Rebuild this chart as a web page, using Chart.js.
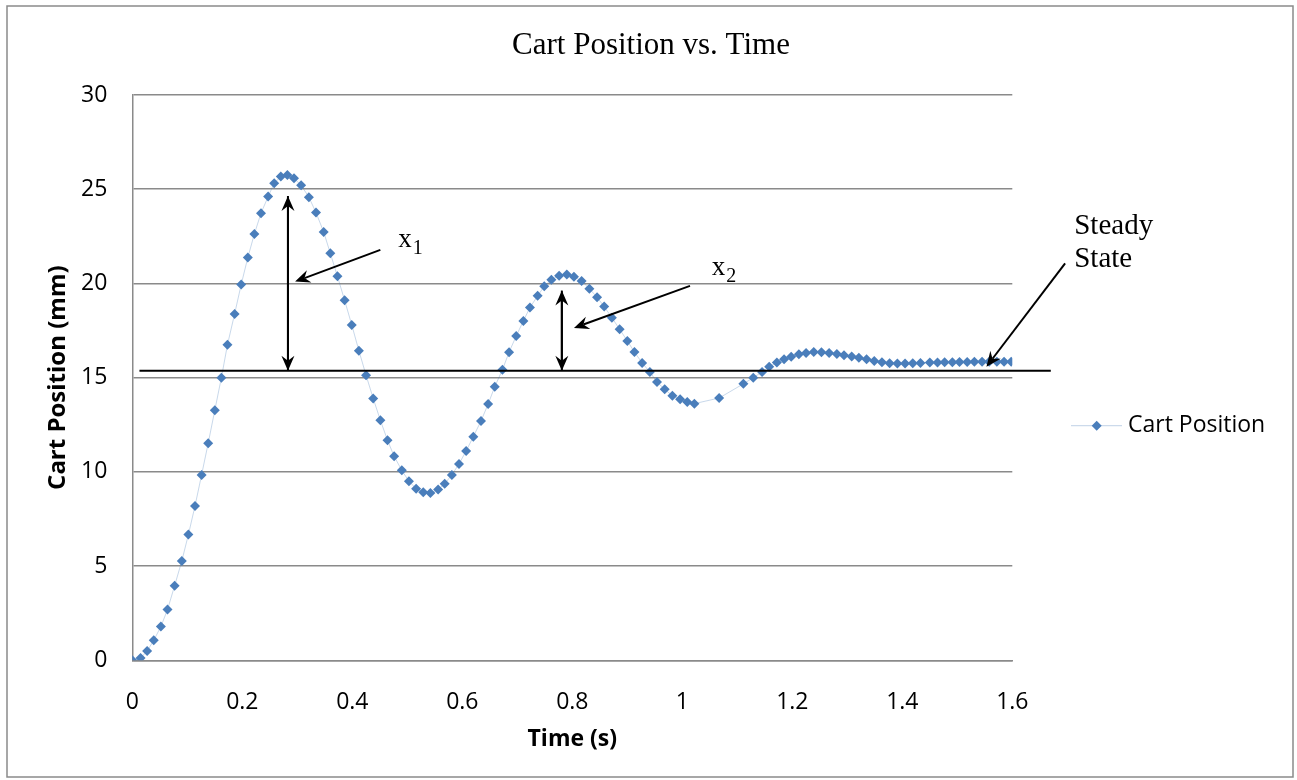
<!DOCTYPE html>
<html>
<head>
<meta charset="utf-8">
<title>Cart Position vs. Time</title>
<script src="https://cdn.jsdelivr.net/npm/chart.js@4.4.1/dist/chart.umd.min.js"></script>
<style>
  html, body { margin: 0; padding: 0; background: #fff; }
  #wrap { width: 1297px; height: 780px; }
</style>
</head>
<body>
<div id="wrap"><canvas id="chart" width="1297" height="780"></canvas></div>
<script>
// Datos
const tiempos = [0.000, 0.015, 0.027, 0.039, 0.052, 0.064, 0.077, 0.090, 0.102, 0.114, 0.126, 0.138, 0.150, 0.162, 0.173, 0.186, 0.198, 0.210, 0.222, 0.234,
    0.247, 0.258, 0.270, 0.282, 0.294, 0.307, 0.321, 0.334, 0.348, 0.360, 0.373, 0.386, 0.399, 0.412, 0.425, 0.438, 0.451, 0.464, 0.476, 0.490,
    0.503, 0.516, 0.529, 0.542, 0.556, 0.568, 0.581, 0.594, 0.607, 0.620, 0.634, 0.647, 0.659, 0.673, 0.685, 0.698, 0.711, 0.723, 0.737, 0.749,
    0.762, 0.776, 0.790, 0.803, 0.817, 0.831, 0.845, 0.858, 0.872, 0.886, 0.900, 0.913, 0.927, 0.941, 0.954, 0.968, 0.982, 0.996, 1.009, 1.022,
    1.067, 1.111, 1.129, 1.145, 1.158, 1.172, 1.185, 1.198, 1.212, 1.225, 1.239, 1.253, 1.267, 1.281, 1.294, 1.308, 1.321, 1.335, 1.349, 1.363,
    1.377, 1.391, 1.405, 1.419, 1.433, 1.450, 1.464, 1.477, 1.491, 1.504, 1.518, 1.531, 1.545, 1.558, 1.572, 1.585, 1.598];

const posiciones = [0.00, 0.12, 0.49, 1.06, 1.79, 2.69, 3.96, 5.27, 6.67, 8.19, 9.84, 11.52, 13.27, 15.00, 16.74, 18.38, 19.94, 21.37, 22.63, 23.73,
    24.61, 25.32, 25.67, 25.76, 25.58, 25.21, 24.58, 23.76, 22.73, 21.60, 20.38, 19.11, 17.80, 16.43, 15.13, 13.90, 12.74, 11.68, 10.83, 10.08,
    9.50, 9.11, 8.92, 8.88, 9.06, 9.37, 9.84, 10.42, 11.11, 11.87, 12.70, 13.60, 14.52, 15.42, 16.35, 17.21, 18.01, 18.72, 19.34, 19.85,
    20.20, 20.41, 20.47, 20.36, 20.13, 19.72, 19.27, 18.77, 18.18, 17.57, 16.95, 16.36, 15.78, 15.30, 14.77, 14.38, 14.04, 13.85, 13.71, 13.62,
    13.92, 14.67, 15.00, 15.30, 15.58, 15.80, 15.98, 16.11, 16.24, 16.31, 16.36, 16.35, 16.31, 16.26, 16.19, 16.12, 16.05, 15.98, 15.89, 15.82,
    15.77, 15.75, 15.75, 15.77, 15.78, 15.80, 15.81, 15.82, 15.82, 15.83, 15.83, 15.84, 15.84, 15.85, 15.85, 15.85, 15.85];

const ticksX = [0, 0.2, 0.4, 0.6, 0.8, 1, 1.2, 1.4, 1.6];
const ticksY = [0, 5, 10, 15, 20, 25, 30];

// Anotaciones (en unidades del gráfico: s, mm)
const estadoEstable = 15.37;
const lineaEstable = [0.013, 1.670];
const dobleFlecha1 = { t: 0.283, desde: 15.37, hasta: 24.64 };
const dobleFlecha2 = { t: 0.781, desde: 15.37, hasta: 19.62 };
const flechaX1 = { desde: [0.451, 21.78], hasta: [0.296, 20.10] };
const flechaX2 = { desde: [1.014, 19.87], hasta: [0.803, 17.64] };
const flechaEstable = { desde: [1.696, 21.07], hasta: [1.553, 15.58] };
const etiquetaX1 = { t: 0.4835, v: 21.95, sub: '1' };
const etiquetaX2 = { t: 1.0536, v: 20.45, sub: '2' };
const textoEstable = { t: 1.7126, lineas: ['Steady', 'State'], v: [22.61, 20.89] };

const AZUL = '#4a7ebb';
const GRIS = '#8a8a8a';
const SERIF = "'Liberation Serif', 'Times New Roman', serif";
const SANS = "'Open Sans', 'Liberation Sans', sans-serif";

Chart.defaults.font.family = SANS;
Chart.defaults.color = '#000';

function flecha(ctx, x1, y1, x2, y2) {
    const ang = Math.atan2(y2 - y1, x2 - x1);
    const largo = 15, ancho = 6.5, muesca = 10;
    ctx.beginPath();
    ctx.moveTo(x1, y1);
    ctx.lineTo(x2 - muesca * Math.cos(ang), y2 - muesca * Math.sin(ang));
    ctx.stroke();
    ctx.save();
    ctx.translate(x2, y2);
    ctx.rotate(ang);
    ctx.beginPath();
    ctx.moveTo(0, 0);
    ctx.lineTo(-largo, -ancho);
    ctx.lineTo(-muesca, 0);
    ctx.lineTo(-largo, ancho);
    ctx.closePath();
    ctx.fill();
    ctx.restore();
}

const pluginExtras = {
    id: 'extras',
    beforeDraw(chart) {
        const ctx = chart.ctx;
        ctx.save();
        ctx.fillStyle = '#fff';
        ctx.fillRect(0, 0, chart.width, chart.height);
        ctx.strokeStyle = GRIS;
        ctx.lineWidth = 1.5;
        ctx.strokeRect(7, 6, 1286, 771);
        ctx.restore();
    },
    afterDatasetsDraw(chart) {
        const ctx = chart.ctx;
        const sx = chart.scales.x, sy = chart.scales.y;
        const px = t => sx.getPixelForValue(t);
        const py = v => sy.getPixelForValue(v);
        ctx.save();
        ctx.strokeStyle = '#000';
        ctx.fillStyle = '#000';
        ctx.lineWidth = 2;

        // linea de estado estable
        ctx.beginPath();
        ctx.moveTo(px(lineaEstable[0]), py(estadoEstable));
        ctx.lineTo(px(lineaEstable[1]), py(estadoEstable));
        ctx.stroke();

        // dobles flechas
        [dobleFlecha1, dobleFlecha2].forEach(d => {
            const x = px(d.t);
            flecha(ctx, x, py(d.desde), x, py(d.hasta));
            flecha(ctx, x, py(d.hasta), x, py(d.desde));
        });

        // flechas de etiquetas
        [flechaX1, flechaX2, flechaEstable].forEach(f => {
            flecha(ctx, px(f.desde[0]), py(f.desde[1]), px(f.hasta[0]), py(f.hasta[1]));
        });

        // etiquetas x1, x2
        ctx.textBaseline = 'alphabetic';
        ctx.textAlign = 'left';
        [etiquetaX1, etiquetaX2].forEach(e => {
            const x = px(e.t), y = py(e.v);
            ctx.font = '27px ' + SERIF;
            ctx.fillText('x', x, y);
            const w = ctx.measureText('x').width;
            ctx.font = '20px ' + SERIF;
            ctx.fillText(e.sub, x + w + 1, y + 7);
        });

        // Steady State
        ctx.font = '29px ' + SERIF;
        textoEstable.lineas.forEach((l, i) => {
            ctx.fillText(l, px(textoEstable.t), py(textoEstable.v[i]));
        });

        // titulo
        ctx.font = '31px ' + SERIF;
        ctx.textAlign = 'center';
        ctx.fillText('Cart Position vs. Time', 651, 54);

        // leyenda
        const ly = 425.7;
        ctx.strokeStyle = 'rgba(74,126,187,0.35)';
        ctx.lineWidth = 1;
        ctx.beginPath();
        ctx.moveTo(1071, ly);
        ctx.lineTo(1122, ly);
        ctx.stroke();
        ctx.fillStyle = AZUL;
        const r = 5;
        ctx.beginPath();
        ctx.moveTo(1096.7 - r, ly);
        ctx.lineTo(1096.7, ly - r);
        ctx.lineTo(1096.7 + r, ly);
        ctx.lineTo(1096.7, ly + r);
        ctx.closePath();
        ctx.fill();
        ctx.fillStyle = '#000';
        ctx.font = '23px ' + SANS;
        ctx.textAlign = 'left';
        ctx.textBaseline = 'middle';
        ctx.fillText('Cart Position', 1128, ly);
        ctx.restore();
    }
};

const puntos = tiempos.map((t, i) => ({ x: t, y: posiciones[i] }));

new Chart(document.getElementById('chart'), {
    type: 'scatter',
    data: {
        datasets: [{
            label: 'Cart Position',
            data: puntos,
            showLine: true,
            borderColor: 'rgba(74,126,187,0.3)',
            borderWidth: 1,
            pointStyle: 'rectRot',
            pointRadius: 5,
            pointBackgroundColor: AZUL,
            pointBorderWidth: 0,
            tension: 0
        }]
    },
    options: {
        responsive: false,
        animation: false,
        layout: { padding: { top: 95, left: 8, right: 284.7, bottom: 0 } },
        plugins: {
            legend: { display: false },
            title: { display: false },
            tooltip: { enabled: false }
        },
        scales: {
            x: {
                type: 'linear',
                min: ticksX[0],
                max: ticksX[ticksX.length - 1],
                afterBuildTicks: axis => { axis.ticks = ticksX.map(v => ({ value: v })); },
                afterFit: axis => { axis.height = 119.7; },
                grid: { display: false, drawTicks: false },
                border: { display: true, color: GRIS, width: 1.5 },
                ticks: {
                    padding: 28,
                    font: { size: 23 },
                    color: '#000',
                    maxRotation: 0,
                    callback: v => String(+v.toFixed(1))
                },
                title: {
                    display: true,
                    text: 'Time (s)',
                    font: { size: 23, weight: 'bold' },
                    color: '#000',
                    padding: { top: 0, bottom: 27 }
                }
            },
            y: {
                min: ticksY[0],
                max: ticksY[ticksY.length - 1],
                afterBuildTicks: axis => { axis.ticks = ticksY.map(v => ({ value: v })); },
                afterFit: axis => { axis.width = 124.3; },
                grid: { color: GRIS, lineWidth: 1.5, drawTicks: false },
                border: { display: true, color: GRIS, width: 1.5 },
                ticks: {
                    padding: 25,
                    font: { size: 23 },
                    color: '#000'
                },
                title: {
                    display: true,
                    text: 'Cart Position (mm)',
                    font: { size: 24, weight: 'bold' },
                    color: '#000',
                    padding: { top: 36, bottom: 0 }
                }
            }
        }
    },
    plugins: [pluginExtras]
});
</script>
</body>
</html>
